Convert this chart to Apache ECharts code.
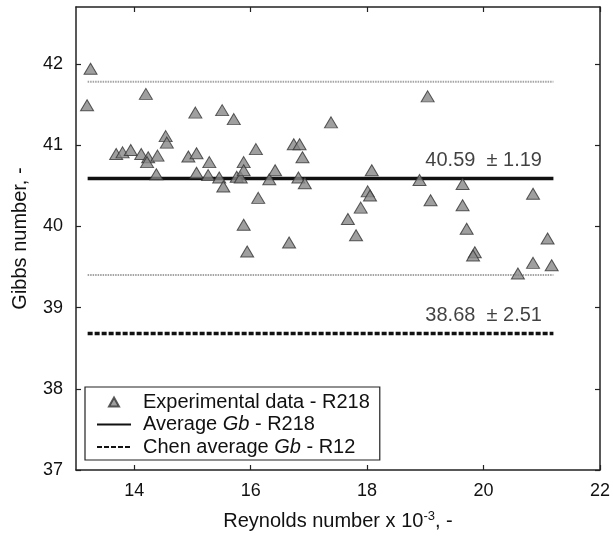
<!DOCTYPE html>
<html><head><meta charset="utf-8">
<script src="https://cdn.jsdelivr.net/npm/echarts@6/dist/echarts.min.js"></script>
<style>html,body{margin:0;padding:0;background:#fff}#c{width:613px;height:537px}</style>
</head><body><div id="c"></div>
<script>
// ---- data ----
const reynolds = [13.25, 13.19, 14.20, 15.05, 15.51, 15.71, 14.54, 14.56, 13.69, 13.80,
  13.94, 14.12, 14.24, 14.22, 14.40, 14.38, 14.93, 15.07, 15.29, 15.07,
  15.27, 15.46, 15.53, 15.76, 15.83, 15.88, 15.88, 16.09, 16.13, 16.32,
  16.42, 16.74, 16.84, 16.89, 16.82, 16.93, 15.88, 15.94, 16.66, 17.38,
  18.08, 18.01, 18.05, 17.89, 17.67, 17.81, 18.90, 19.09, 19.64, 19.64,
  19.71, 19.85, 19.82, 20.85, 21.10, 20.85, 21.17, 20.59, 19.04];
const gibbs = [41.94, 41.49, 41.63, 41.40, 41.43, 41.32, 41.11, 41.03, 40.89, 40.91,
  40.94, 40.89, 40.85, 40.79, 40.87, 40.64, 40.86, 40.90, 40.79, 40.66,
  40.63, 40.60, 40.49, 40.61, 40.60, 40.79, 40.69, 40.95, 40.35, 40.58,
  40.69, 41.01, 41.01, 40.85, 40.60, 40.53, 40.02, 39.69, 39.80, 41.28,
  40.69, 40.43, 40.38, 40.23, 40.09, 39.89, 40.57, 40.32, 40.52, 40.26,
  39.97, 39.68, 39.64, 40.40, 39.85, 39.55, 39.52, 39.42, 41.60];
const avgGb = 40.59, avgBand = 1.19;
const chenGb = 38.68, chenBand = 2.51;
const lineSpan = [13.2, 21.2];
const labelX = 19.0;
const xTicks = [14, 16, 18, 20, 22];
const yTicks = [37, 38, 39, 40, 41, 42];
const seriesNames = ['Experimental data - R218', 'Average Gb - R218', 'Chen average Gb - R12'];
const xTitle = 'Reynolds number x 10{sup|-3}, -';
const yTitle = 'Gibbs number, -';

// ---- chart ----
const FONT = '"Liberation Sans", Arial, sans-serif';
const TXT = '#111';
const AX = '#222';
const chart = echarts.init(document.getElementById('c'), null, {renderer: 'canvas'});

function hline(v) { return [[lineSpan[0], v], [lineSpan[1], v]]; }
const pts = reynolds.map((x, i) => [x, gibbs[i]]);
const fmt = (m, b) => m.toFixed(2) + '\u00a0 ± ' + b.toFixed(2);

function frameAxis(extra) {
  return Object.assign({
    type: 'value',
    axisLine: {show: true, onZero: false, lineStyle: {color: AX, width: 1.5}},
    splitLine: {show: false}
  }, extra);
}

const option = {
  animation: false,
  backgroundColor: '#fff',
  grid: {left: 76, right: 10, top: 7, bottom: 67},
  xAxis: [
    frameAxis({
      min: 13, max: 22, position: 'bottom',
      axisTick: {show: true, inside: true, length: 5, customValues: xTicks, lineStyle: {color: AX, width: 1.2}},
      axisLabel: {customValues: xTicks, fontSize: 18, fontFamily: FONT, color: TXT, margin: 12},
      name: xTitle, nameLocation: 'middle', nameGap: 40,
      nameTextStyle: {fontSize: 20, fontFamily: FONT, color: TXT, lineHeight: 22,
        rich: {sup: {fontSize: 13, fontFamily: FONT, color: TXT, verticalAlign: 'top', lineHeight: 22}}}
    }),
    frameAxis({
      min: 13, max: 22, position: 'top',
      axisTick: {show: true, inside: true, length: 5, customValues: xTicks, lineStyle: {color: AX, width: 1.2}},
      axisLabel: {show: false}
    })
  ],
  yAxis: [
    frameAxis({
      min: 37, max: 42.7, position: 'left',
      axisTick: {show: true, inside: true, length: 5, customValues: yTicks, lineStyle: {color: AX, width: 1.2}},
      axisLabel: {customValues: yTicks, fontSize: 18, fontFamily: FONT, color: TXT, margin: 13},
      name: yTitle, nameLocation: 'middle', nameGap: 46,
      nameTextStyle: {fontSize: 20, fontFamily: FONT, color: TXT}
    }),
    frameAxis({
      min: 37, max: 42.7, position: 'right',
      axisTick: {show: true, inside: true, length: 5, customValues: yTicks, lineStyle: {color: AX, width: 1.2}},
      axisLabel: {show: false}
    })
  ],
  legend: {
    orient: 'vertical', left: 85, top: 387,
    data: [
      {name: seriesNames[0], icon: 'path://M5,0L10,9L0,9Z'},
      {name: seriesNames[1], itemStyle: {opacity: 0}},
      {name: seriesNames[2], itemStyle: {opacity: 0}}
    ],
    symbolKeepAspect: true,
    itemWidth: 34, itemHeight: 9, itemGap: 2.5,
    padding: [5, 10, 3, 11],
    borderColor: '#222', borderWidth: 1.2, backgroundColor: '#fff',
    selectedMode: false,
    formatter: function (name) {
      const parts = name.split(' Gb ');
      if (parts.length === 1) return '{s|}{t|' + name + '}';
      return '{s|}{t|' + parts[0] + ' }{i|Gb}{t| ' + parts[1] + '}';
    },
    textStyle: {
      fontSize: 20, fontFamily: FONT, color: TXT,
      rich: {
        s: {width: 7},
        t: {fontSize: 20, fontFamily: FONT, color: TXT, lineHeight: 20},
        i: {fontSize: 20, fontFamily: FONT, color: TXT, fontStyle: 'italic', lineHeight: 20}
      }
    }
  },
  series: [
    {name: 'upper', type: 'line', data: hline(avgGb + avgBand), symbol: 'none', silent: true,
      lineStyle: {color: '#a3a3a3', width: 2, type: [1.5, 1]}, z: 1},
    {name: 'lower', type: 'line', data: hline(avgGb - avgBand), symbol: 'none', silent: true,
      lineStyle: {color: '#a3a3a3', width: 2, type: [1.5, 1]}, z: 1},
    {name: seriesNames[1], type: 'line', data: hline(avgGb), symbol: 'none', silent: true,
      itemStyle: {color: '#111'},
      lineStyle: {color: '#111', width: 3.5}, z: 2},
    {name: seriesNames[2], type: 'line', data: hline(chenGb), symbol: 'none', silent: true,
      itemStyle: {color: '#111'},
      lineStyle: {color: '#111', width: 3.5, type: [5, 2]}, z: 2},
    {name: seriesNames[0], type: 'scatter', data: pts, symbol: 'triangle', symbolSize: [13, 11], silent: true,
      itemStyle: {color: '#878787', borderColor: '#333', borderWidth: 1}, z: 3},
    {name: 'notes', type: 'scatter', symbolSize: 0, silent: true, z: 4,
      data: [
        {value: [labelX, avgGb], label: {formatter: fmt(avgGb, avgBand)}},
        {value: [labelX, chenGb], label: {formatter: fmt(chenGb, chenBand)}}
      ],
      label: {show: true, position: 'right', distance: 0, offset: [0, -18],
        fontSize: 20, fontFamily: FONT, color: TXT}
    }
  ]
};
chart.setOption(option);
</script>
</body></html>
